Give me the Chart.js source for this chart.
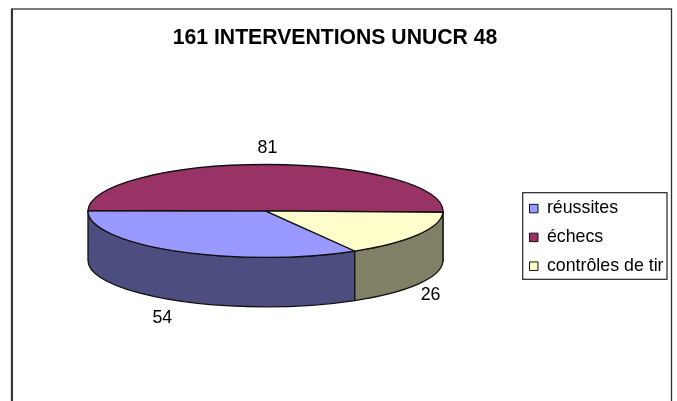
<!DOCTYPE html>
<html>
<head>
<meta charset="utf-8">
<style>
  html, body { margin: 0; background: #fff; }
  canvas { display: block; }
</style>
<script src="https://cdn.jsdelivr.net/npm/chart.js@4"></script>
</head>
<body>
<canvas id="pie3d" width="677" height="401"></canvas>
<script>
// data
const categories = ['réussites', 'échecs', 'contrôles de tir'];
const interventions = [54, 81, 26];
const chartTitle = '161 INTERVENTIONS UNUCR 48';

// top face and side wall colours
const topColors = ['#9999ff', '#993366', '#ffffcc'];
const wallColors = ['#4d4d80', '#4d1a33', '#808066'];

const font = 'Liberation Sans';
const labelSize = 17.8;
const tilt = 0.2614;   // ellipse height / width
const depth = 49.5;
const labelNudge = [[-14, 17.5], [-1.5, -16], [12.5, 10.5]];

// the library has no 3D pie, so the arcs it computes are redrawn as a squashed disc
const pie3dPlugin = {
  id: 'pie3d',
  afterLayout(chart) {
    const legend = chart.legend;
    legend.left = 518.5;
    legend.right = 677;
    legend.top = 188.7;
    legend.bottom = 290;
    // title is centred on the frame, not on the padded area
    chart.titleBlock.left = 0;
    chart.titleBlock.right = 670;
  },
  beforeDraw(chart) {
    const ctx = chart.ctx;
    ctx.save();
    // outer frame, runs off the bottom of the picture
    ctx.strokeStyle = '#333';
    ctx.lineWidth = 1.3;
    ctx.strokeRect(11.5, 9, 660, 420);
    ctx.lineWidth = 2;
    ctx.beginPath();
    ctx.moveTo(12, 9);
    ctx.lineTo(12, 401);
    ctx.stroke();
    // legend frame
    ctx.strokeStyle = '#222';
    ctx.lineWidth = 1.2;
    ctx.strokeRect(522.7, 192.7, 144.3, 86.6);
    ctx.restore();
  },
  beforeDatasetsDraw(chart) {
    const ctx = chart.ctx;
    const arcs = chart.getDatasetMeta(0).data;
    ctx.save();
    ctx.lineWidth = 1.3;
    ctx.strokeStyle = '#111';
    ctx.lineJoin = 'round';

    // walls: only the part of each slice in the front half of the disc shows
    arcs.forEach((arc, i) => {
      const p = arc.getProps(['x', 'y', 'startAngle', 'endAngle', 'outerRadius']);
      const rx = p.outerRadius;
      const ry = rx * tilt;
      [0, Math.PI * 2].forEach(k => {
        const a = Math.max(p.startAngle, k);
        const b = Math.min(p.endAngle, k + Math.PI);
        if (b <= a) return;
        ctx.beginPath();
        ctx.ellipse(p.x, p.y, rx, ry, 0, a, b);
        ctx.ellipse(p.x, p.y + depth, rx, ry, 0, b, a, true);
        ctx.closePath();
        ctx.fillStyle = wallColors[i];
        ctx.fill();
        ctx.stroke();
      });
    });

    // top face
    arcs.forEach((arc, i) => {
      const p = arc.getProps(['x', 'y', 'startAngle', 'endAngle', 'outerRadius']);
      ctx.beginPath();
      ctx.moveTo(p.x, p.y);
      ctx.ellipse(p.x, p.y, p.outerRadius, p.outerRadius * tilt, 0, p.startAngle, p.endAngle);
      ctx.closePath();
      ctx.fillStyle = topColors[i];
      ctx.fill();
      ctx.stroke();
    });

    // value labels, placed from the middle of each slice
    ctx.fillStyle = '#000';
    ctx.font = labelSize + 'px "' + font + '"';
    ctx.textAlign = 'center';
    ctx.textBaseline = 'middle';
    arcs.forEach((arc, i) => {
      const p = arc.getProps(['x', 'y', 'startAngle', 'endAngle', 'outerRadius']);
      const mid = (p.startAngle + p.endAngle) / 2;
      const sin = Math.sin(mid);
      const x = p.x + Math.cos(mid) * p.outerRadius + labelNudge[i][0];
      const y = p.y + sin * p.outerRadius * tilt + (sin > 0 ? depth : 0) + labelNudge[i][1];
      ctx.fillText(String(interventions[i]), x, y);
    });
    ctx.restore();
    return false;
  }
};

new Chart(document.getElementById('pie3d'), {
  type: 'pie',
  data: {
    labels: categories,
    datasets: [{
      data: interventions,
      backgroundColor: topColors,
      borderColor: '#111',
      borderWidth: 1,
      radius: 177.5
    }]
  },
  options: {
    responsive: false,
    animation: false,
    rotation: 149.8,
    layout: { padding: { left: 9, right: 0, top: 0, bottom: 37.6 } },
    plugins: {
      title: {
        display: true,
        text: chartTitle,
        color: '#000',
        font: { family: font, size: 21.2, weight: 'bold' },
        padding: { top: 25, bottom: 8 }
      },
      legend: {
        position: 'right',
        align: 'start',
        labels: {
          color: '#000',
          font: { family: font, size: labelSize },
          boxWidth: 8.5,
          boxHeight: 8.5,
          padding: 11
        }
      },
      tooltip: { enabled: false }
    }
  },
  plugins: [pie3dPlugin]
});
</script>
</body>
</html>
